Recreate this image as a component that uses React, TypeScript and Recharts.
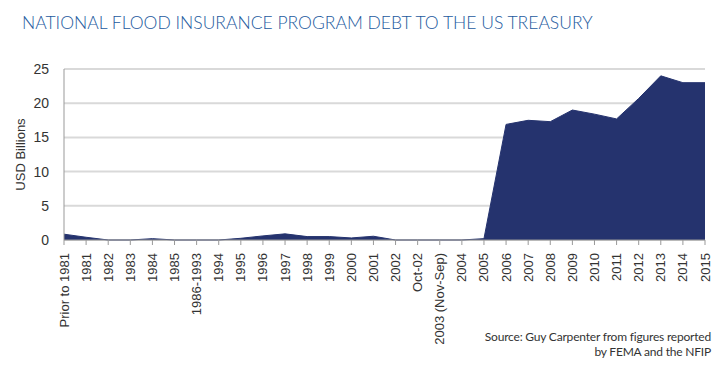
import { AreaChart, Area, XAxis, YAxis, CartesianGrid } from "recharts";

const years = [
  "Prior to 1981", "1981", "1982", "1983", "1984", "1985", "1986-1993", "1994",
  "1995", "1996", "1997", "1998", "1999", "2000", "2001", "2002", "Oct-02",
  "2003 (Nov-Sep)", "2004", "2005", "2006", "2007", "2008", "2009", "2010",
  "2011", "2012", "2013", "2014", "2015",
];

const debt = [
  0.85, 0.4, 0, 0, 0.2, 0, 0, 0,
  0.25, 0.6, 0.9, 0.5, 0.5, 0.3, 0.55, 0, 0,
  0, 0, 0.2, 16.9, 17.5, 17.3, 19.0, 18.4,
  17.7, 20.7, 24.0, 23.0, 23.0,
];

const yTicks = [0, 5, 10, 15, 20, 25];

const NAVY = "#25336e";

const data = years.map((year, i) => ({ year, debt: debt[i] }));

function XTick(props: any) {
  const { x, y, payload } = props;
  return (
    <g transform={`translate(${x},${y + 6})`}>
      <text
        transform="rotate(-90)"
        textAnchor="end"
        dy={4.5}
        fill="#333"
        fontSize={13}
        fontFamily="Liberation Sans, Arial, sans-serif"
      >
        {payload.value}
      </text>
    </g>
  );
}

export default function App() {
  return (
    <div
      style={{
        position: "absolute",
        left: 0,
        top: 0,
        width: 725,
        height: 374,
        background: "#fff",
        overflow: "hidden",
      }}
    >
      <div
        style={{
          position: "absolute",
          left: 22,
          top: 12,
          fontFamily: "Lato, sans-serif",
          fontSize: 17.5,
          fontWeight: 300,
          color: "#1d5a9e",
          whiteSpace: "nowrap",
        }}
      >
        NATIONAL FLOOD INSURANCE PROGRAM DEBT TO THE US TREASURY
      </div>
      <AreaChart
        width={725}
        height={374}
        data={data}
        margin={{ top: 69, right: 20, bottom: 0, left: 24 }}
      >
        <CartesianGrid vertical={false} stroke="#d9d9d9" strokeWidth={2} />
        <XAxis
          dataKey="year"
          interval={0}
          height={134}
          tick={<XTick />}
          tickSize={5}
          axisLine={{ stroke: "#999" }}
          tickLine={{ stroke: "#999" }}
        />
        <YAxis
          width={40}
          domain={[0, 25]}
          ticks={yTicks}
          tickLine={false}
          axisLine={{ stroke: "#999" }}
          tick={{ fill: "#333", fontSize: 14, fontFamily: "Liberation Sans, Arial, sans-serif" }}
          tickMargin={9}
          label={{
            value: "USD Billions",
            angle: -90,
            position: "insideLeft",
            offset: -4,
            style: { textAnchor: "middle", fill: "#333", fontSize: 13, fontFamily: "Liberation Sans, Arial, sans-serif" },
          }}
        />
        <Area
          type="linear"
          dataKey="debt"
          stroke={NAVY}
          fill={NAVY}
          fillOpacity={1}
          isAnimationActive={false}
        />
      </AreaChart>
      <div
        style={{
          position: "absolute",
          right: 14,
          top: 329,
          textAlign: "right",
          fontFamily: "Lato, sans-serif",
          fontSize: 12,
          lineHeight: "15px",
          letterSpacing: -0.2,
          color: "#333",
        }}
      >
        Source: Guy Carpenter from figures reported
        <br />
        by FEMA and the NFIP
      </div>
    </div>
  );
}
